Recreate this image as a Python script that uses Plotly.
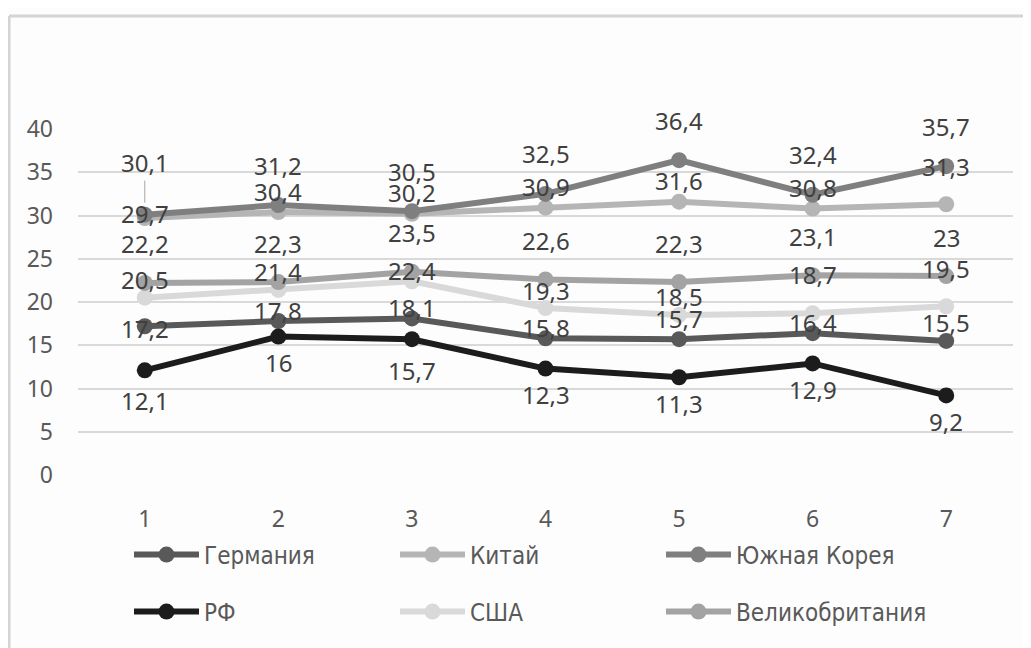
import plotly.graph_objects as go

categories = [1, 2, 3, 4, 5, 6, 7]
germany = [17.2, 17.8, 18.1, 15.8, 15.7, 16.4, 15.5]
china = [29.7, 30.4, 30.2, 30.9, 31.6, 30.8, 31.3]
korea = [30.1, 31.2, 30.5, 32.5, 36.4, 32.4, 35.7]
russia = [12.1, 16.0, 15.7, 12.3, 11.3, 12.9, 9.2]
usa = [20.5, 21.4, 22.4, 19.3, 18.5, 18.7, 19.5]
uk = [22.2, 22.3, 23.5, 22.6, 22.3, 23.1, 23.0]
y_ticks = [0, 5, 10, 15, 20, 25, 30, 35, 40]

series = [
    ("Германия", germany, "#595959", 11, "legend"),
    ("Китай", china, "#b5b5b5", 21, "legend"),
    ("Южная Корея", korea, "#7f7f7f", 40, "legend"),
    ("РФ", russia, "#1c1c1c", -26, "legend2"),
    ("США", usa, "#d9d9d9", 18, "legend2"),
    ("Великобритания", uk, "#a3a3a3", 39, "legend2"),
]

# label placement tweaks (pixel offsets above the point) for individual labels
label_offsets = {
    ("Китай", 1): 5, ("Китай", 7): 38,
    ("США", 3): 11, ("США", 6): 39, ("США", 7): 38,
    ("Германия", 1): -2, ("Германия", 5): 21, ("Германия", 7): 18,
    ("РФ", 1): -30, ("РФ", 3): -31,
}
leader_labels = {("Южная Корея", 1): 52}

FONT = "Noto Sans"
fig = go.Figure()
annotations = []
for name, vals, color, shift, leg in series:
    fig.add_trace(go.Scatter(
        x=categories, y=vals, name=name, mode="lines+markers",
        line=dict(color=color, width=6),
        marker=dict(color=color, size=16),
        legend=leg,
    ))
    for xv, yv in zip(categories, vals):
        label = f"{yv:g}".replace(".", ",")
        font = dict(family=FONT, size=24, color="#404040")
        if (name, xv) in leader_labels:
            annotations.append(dict(
                x=xv, y=yv, xref="x", yref="y", text=label,
                showarrow=True, arrowhead=0, arrowwidth=1, arrowcolor="#a6a6a6",
                ax=0, ay=-leader_labels[(name, xv)], standoff=12, font=font,
            ))
        else:
            annotations.append(dict(
                x=xv, y=yv, xref="x", yref="y", text=label,
                showarrow=False, yshift=label_offsets.get((name, xv), shift),
                font=font,
            ))

# page has an 8px body margin, so the figure is 8px smaller on each side
W, H = 1023, 640
L, R, T, B = 70, 18, 121, 173
pw, ph = W - L - R, H - T - B
def px_x(p):
    return (p - L) / pw
def px_y(p):
    return (H - B - p) / ph

shapes = [
    dict(type="line", xref="paper", yref="paper",
         x0=px_x(1), x1=px_x(1040), y0=px_y(8), y1=px_y(8),
         line=dict(color="#d4d4d4", width=3)),
    dict(type="line", xref="paper", yref="paper",
         x0=px_x(1), x1=px_x(1), y0=px_y(8), y1=px_y(660),
         line=dict(color="#d4d4d4", width=3)),
]

legend_common = dict(
    orientation="h", xanchor="left", yanchor="middle",
    font=dict(family="DejaVu Sans Condensed, Roboto", size=24, color="#595959"),
    entrywidth=186, entrywidthmode="pixels", itemwidth=65,
    bgcolor="rgba(0,0,0,0)", itemclick=False,
)

fig.update_layout(
    width=W, height=H,
    margin=dict(l=L, r=R, t=T, b=B),
    paper_bgcolor="#fdfdfd", plot_bgcolor="#fdfdfd",
    showlegend=True,
    legend=dict(x=px_x(121), y=px_y(547), **legend_common),
    legend2=dict(x=px_x(121), y=px_y(604), **legend_common),
    xaxis=dict(
        range=[0.5, 7.5], tickvals=categories, ticktext=[str(c) for c in categories],
        showgrid=False, zeroline=False, showline=False, ticks="",
        tickfont=dict(family=FONT, size=23, color="#595959"),
        ticklabelstandoff=28,
    ),
    yaxis=dict(
        range=[0, 40], tickvals=y_ticks, showgrid=True, gridcolor="#d9d9d9",
        gridwidth=2, zeroline=False, showline=False, ticks="",
        tickfont=dict(family=FONT, size=23, color="#595959"),
        ticklabelstandoff=24,
    ),
    annotations=annotations,
    shapes=shapes,
)

fig.write_html("out.html")
